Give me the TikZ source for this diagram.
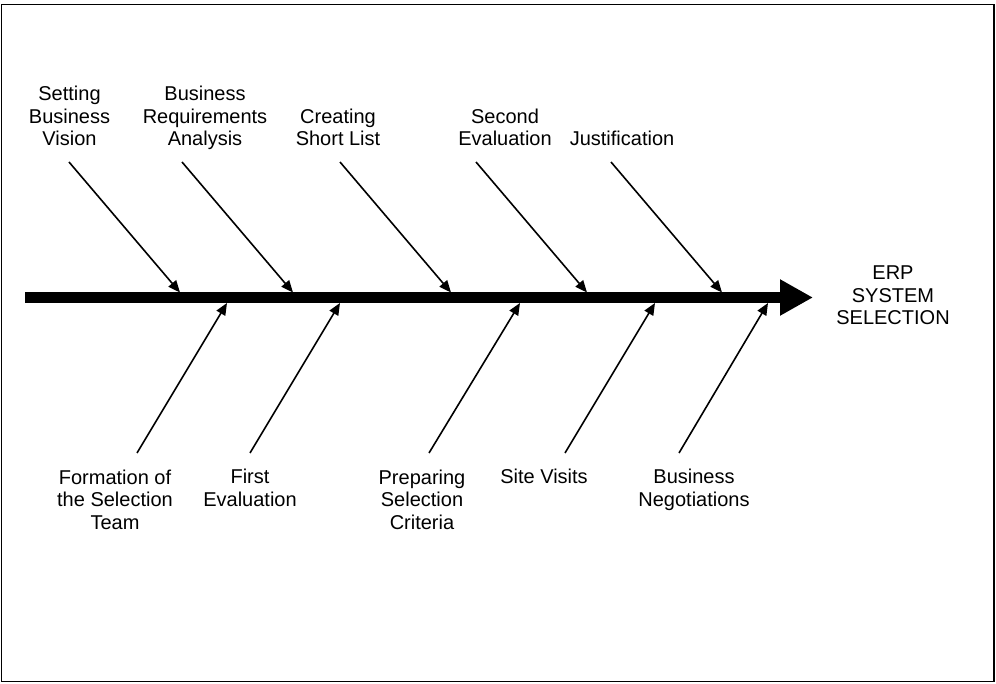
\documentclass[tikz,border=0pt]{standalone}
\usepackage{fontspec}
\setmainfont{Liberation Sans}
\usetikzlibrary{arrows.meta}
\begin{document}
\begin{tikzpicture}[x=1pt,y=-1pt,
  label/.style={align=center,inner sep=0pt,anchor=base,font=\fontsize{20}{22.5}\selectfont},
  bone/.style={line width=1.6pt,-{Triangle[length=12pt,width=10pt]}},
  spine/.style={line width=11pt,-{Triangle[length=33pt,width=34pt]}}]
\useasboundingbox (0,0) rectangle (996,684);
% outer frame
\draw[line width=1.5pt] (1.5,4.5) rectangle (994,681.5);

% main spine
\coordinate (s0) at (25,297.5);
\coordinate (s1) at (813,297.5);
\draw[spine] (s0) -- (s1);
% (base anchor of a multi-line label sits on its last line)
\node[label] (goal) at (893,325) {ERP\\SYSTEM\\SELECTION};

% upper causes
\node[label] (u1) at (69.5,146) {Setting\\Business\\Vision};
\node[label] (u2) at (205,146) {Business\\Requirements\\Analysis};
\node[label] (u3) at (338,146) {Creating\\Short List};
\node[label] (u4) at (505,146) {Second\\Evaluation};
\node[label] (u5) at (622,146) {Justification};

\coordinate (u1a) at (69,162);  \coordinate (u1b) at (180,292.5);
\coordinate (u2a) at (182,162); \coordinate (u2b) at (293,292.5);
\coordinate (u3a) at (340,162); \coordinate (u3b) at (451,292.5);
\coordinate (u4a) at (476,162); \coordinate (u4b) at (587,292.5);
\coordinate (u5a) at (611,162); \coordinate (u5b) at (722,292.5);
\foreach \i in {1,...,5} \draw[bone] (u\i a) -- (u\i b);

% lower causes
\node[label] (d1) at (115,529) {Formation of\\the Selection\\Team};
\node[label] (d2) at (250,506) {First\\Evaluation};
\node[label] (d3) at (422,529) {Preparing\\Selection\\Criteria};
\node[label] (d4) at (544,483) {Site Visits};
\node[label] (d5) at (694,506) {Business\\Negotiations};

\coordinate (d1a) at (137,453); \coordinate (d1b) at (227,303);
\coordinate (d2a) at (250,453); \coordinate (d2b) at (340,303);
\coordinate (d3a) at (429,453); \coordinate (d3b) at (520,303);
\coordinate (d4a) at (565,453); \coordinate (d4b) at (655,303);
\coordinate (d5a) at (679,453); \coordinate (d5b) at (768,303);
\foreach \i in {1,...,5} \draw[bone] (d\i a) -- (d\i b);
\end{tikzpicture}
\end{document}
